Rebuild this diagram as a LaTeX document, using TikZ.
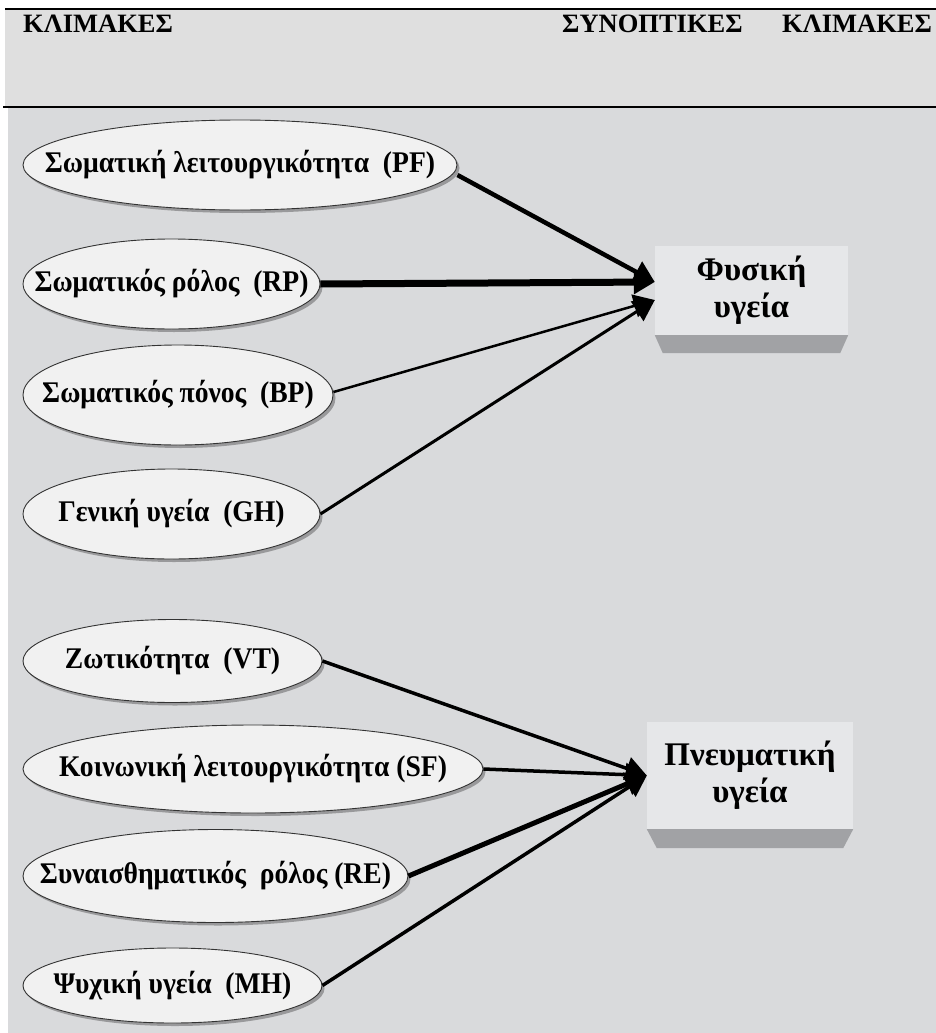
\documentclass[tikz,border=0pt]{standalone}
\usepackage{fontspec}
\setmainfont{Liberation Serif}
\newfontfamily\ellfont{Liberation Serif}[FakeStretch=0.92]
\usetikzlibrary{shapes.geometric,arrows.meta,shadows}
\definecolor{hdr}{HTML}{DFDFDF}
\definecolor{bodybg}{HTML}{D9DADC}
\definecolor{ellfill}{HTML}{F1F1F1}
\definecolor{boxfill}{HTML}{E6E7E9}
\definecolor{boxshade}{HTML}{A1A2A5}
\begin{document}
\begin{tikzpicture}[x=1pt,y=-1pt,
  ell/.style={ellipse, draw=black!80, line width=0.9pt, fill=ellfill, inner sep=0pt,
    drop shadow={shadow xshift=2.5pt, shadow yshift=-3pt, fill=black!70, opacity=0.45},
    font=\ellfont\fontsize{30}{32}\selectfont\bfseries},
  bx/.style={rectangle, fill=boxfill, inner sep=0pt, align=center,
    font=\fontsize{33}{37}\selectfont\bfseries},
  shade/.style={fill=boxshade},
  conn/.style={-{Triangle[length=21pt,width=23pt]}, line cap=butt, draw=black},
  hdrtext/.style={anchor=base west, inner sep=0pt, font=\fontsize{26.5}{28}\selectfont\bfseries},
  rule/.style={line width=1.6pt, draw=black}]
\useasboundingbox (0,0) rectangle (936,1033);
\fill[white] (0,0) rectangle (936,1033);
\fill[hdr] (5,9) rectangle (936,107);
\fill[bodybg] (8,107) rectangle (936,1033);
\draw[rule] (5,9) -- (936,9);
\draw[rule] (3,107) -- (936,107);
% header
\node[hdrtext] (h1) at (23,33) {ΚΛΙΜΑΚΕΣ};
\node[hdrtext] (h2) at (562,33) {ΣΥΝΟΠΤΙΚΕΣ};
\node[hdrtext] (h3) at (782,33) {ΚΛΙΜΑΚΕΣ};
% boxes
\node[bx, minimum width=193pt, minimum height=89pt] (b1) at (751.5,290.5) {Φυσική\\υγεία};
\fill[shade] (b1.south west) -- (b1.south east) -- ([xshift=-8pt,yshift=-18pt]b1.south east) -- ([xshift=8pt,yshift=-18pt]b1.south west) -- cycle;
\node[bx, minimum width=206pt, minimum height=107pt] (b2) at (750,775.5) {\raisebox{-5pt}{\shortstack{Πνευματική\\[2pt]υγεία}}};
\fill[shade] (b2.south west) -- (b2.south east) -- ([xshift=-10pt,yshift=-19pt]b2.south east) -- ([xshift=10pt,yshift=-19pt]b2.south west) -- cycle;
\coordinate (t1) at ([yshift=8.5pt]b1.west);
\coordinate (t2) at ([yshift=-9.5pt]b1.west);
\coordinate (t3) at (b2.west);
% ellipses
\node[ell, minimum width=434pt, minimum height=90pt] (pf) at (240,165) {\makebox[0pt]{Σωματική λειτουργικότητα\ \ (PF)}};
\node[ell, minimum width=297pt, minimum height=90pt] (rp) at (171.5,284) {\makebox[0pt]{Σωματικός ρόλος\ \ (RP)}};
\node[ell, minimum width=310pt, minimum height=100pt] (bp) at (178,395) {\makebox[0pt]{Σωματικός πόνος\ \ (BP)}};
\node[ell, minimum width=297pt, minimum height=90pt] (gh) at (171.5,514) {\makebox[0pt]{Γενική υγεία\ \ (GH)}};
\node[ell, minimum width=299pt, minimum height=83pt] (vt) at (172.5,661) {\makebox[0pt]{Ζωτικότητα\ \ (VT)}};
\node[ell, minimum width=460pt, minimum height=88pt] (sf) at (253,769) {\makebox[0pt]{Κοινωνική λειτουργικότητα (SF)}};
\node[ell, minimum width=385pt, minimum height=93pt] (re) at (215.5,876) {\makebox[0pt]{Συναισθηματικός\ \ ρόλος (RE)}};
\node[ell, minimum width=299pt, minimum height=75pt] (mh) at (172.5,985.5) {\makebox[0pt]{Ψυχική υγεία\ \ (MH)}};
% connectors
\draw[conn, line width=4.5pt] ([yshift=-10pt]pf.east) -- (t1);
\draw[conn, line width=7pt] (rp.east) -- (t1);
\draw[conn, line width=2.5pt] ([yshift=3pt]bp.east) -- (t2);
\draw[conn, line width=3pt] (gh.east) -- (t2);
\draw[conn, line width=3.5pt] (vt.east) -- (t3);
\draw[conn, line width=3.5pt] (sf.east) -- (t3);
\draw[conn, line width=5pt] (re.east) -- (t3);
\draw[conn, line width=3.5pt] (mh.east) -- (t3);
\end{tikzpicture}
\end{document}
